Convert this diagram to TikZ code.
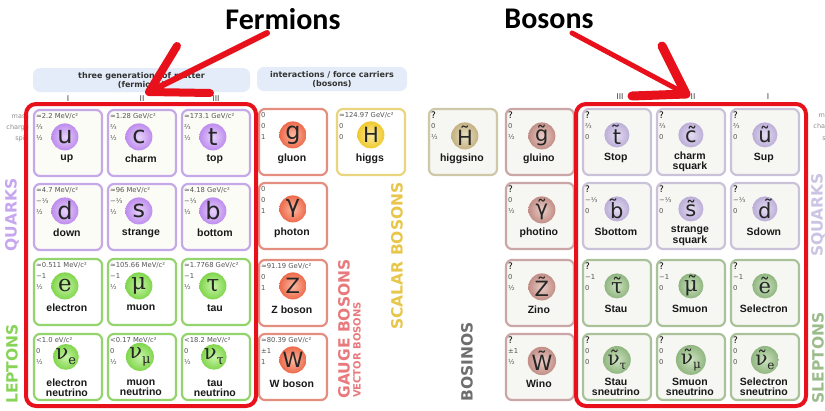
\documentclass[tikz,border=0pt]{standalone}
\usepackage{fontspec}
\setmainfont{DejaVu Sans}
\newfontfamily\namefont{Liberation Sans}
\newfontfamily\titlefont{Carlito}
\newfontfamily\symserif{DejaVu Serif}
\usetikzlibrary{calc}
\definecolor{redc}{HTML}{E8101A}
\definecolor{quarkbd}{HTML}{C4A8E8}\definecolor{quarkbl}{HTML}{BE8CEE}\definecolor{quarkin}{HTML}{E6D2FA}
\definecolor{lepbd}{HTML}{94D46C}\definecolor{lepbl}{HTML}{80D64C}\definecolor{lepin}{HTML}{C8F4A8}
\definecolor{gaugebd}{HTML}{E38E7E}\definecolor{gaugebl}{HTML}{EE6A4C}\definecolor{gaugein}{HTML}{FAB8A0}
\definecolor{higgsbd}{HTML}{EAD57E}\definecolor{higgsbl}{HTML}{EFC92C}\definecolor{higgsin}{HTML}{FBEBA0}
\definecolor{hinobd}{HTML}{CFC8A8}\definecolor{hinobl}{HTML}{C4B282}\definecolor{hinoin}{HTML}{E8E0C4}
\definecolor{ginobd}{HTML}{CBA6A6}\definecolor{ginobl}{HTML}{C28E86}\definecolor{ginoin}{HTML}{E8CCC6}
\definecolor{sqbd}{HTML}{CAC2D8}\definecolor{sqbl}{HTML}{BCAED8}\definecolor{sqin}{HTML}{E4DCF2}
\definecolor{slbd}{HTML}{A9C29A}\definecolor{slbl}{HTML}{90B680}\definecolor{slin}{HTML}{CCE2C0}
\definecolor{cellfill}{HTML}{FCFCF6}\definecolor{rcellfill}{HTML}{F6F6F2}
\definecolor{hdrfill}{HTML}{E3ECF8}\definecolor{propcol}{HTML}{555555}
\definecolor{quarkvt}{HTML}{C6A6EE}\definecolor{lepvt}{HTML}{88D458}
\definecolor{gaugevt}{HTML}{E87A7E}\definecolor{scalarvt}{HTML}{E8C64A}
\definecolor{bosinovt}{HTML}{6E6E6E}\definecolor{squarkvt}{HTML}{CCC4E4}
\definecolor{sleptvt}{HTML}{9CBC8C}
\newcommand\qsym{\fontsize{24}{24}\selectfont}
\newcommand\csym{\fontsize{21}{21}\selectfont}
\newcommand\lsym{\symserif\fontsize{23}{23}\selectfont}
\newcommand\rsym{\fontsize{21}{21}\selectfont}
\newcommand\rlsym{\symserif\fontsize{21}{21}\selectfont}
\newcommand\nusub[2]{{\symserif\fontsize{#1}{#1}\selectfont ν\raisebox{-0.22em}{\fontsize{13}{13}\selectfont #2}}}
\newcommand\snusub[2]{{\symserif\fontsize{#1}{#1}\selectfont ν̃\raisebox{-0.22em}{\fontsize{12}{12}\selectfont #2}}}
\newcommand\qm{\textcolor{black}{\fontsize{9}{9}\selectfont ?}}
\tikzset{
  cellbox/.style={draw, line width=2.2pt, rounded corners=6pt, minimum width=68pt, minimum height=66pt, inner sep=0pt, fill=cellfill},
  quark cell/.style={draw=quarkbd}, quark ball/.style={inner color=quarkin, outer color=quarkbl},
  lep cell/.style={draw=lepbd, fill=white}, lep ball/.style={inner color=lepin, outer color=lepbl},
  nu ball/.style={inner color=lepin, outer color=lepbl, minimum size=25pt},
  gauge cell/.style={draw=gaugebd, fill=white}, gauge ball/.style={inner color=gaugein, outer color=gaugebl},
  higgs cell/.style={draw=higgsbd, fill=white}, higgs ball/.style={inner color=higgsin, outer color=higgsbl},
  hino cell/.style={draw=hinobd, fill=rcellfill}, hino ball/.style={inner color=hinoin, outer color=hinobl},
  gino cell/.style={draw=ginobd, fill=rcellfill}, gino ball/.style={inner color=ginoin, outer color=ginobl},
  sq cell/.style={draw=sqbd, fill=rcellfill}, sq ball/.style={inner color=sqin, outer color=sqbl, minimum size=25pt},
  sl cell/.style={draw=slbd, fill=rcellfill}, sl ball/.style={inner color=slin, outer color=slbl, minimum size=25pt},
  ball/.style={circle, minimum size=27pt, inner sep=0pt, text=black!85},
  prop/.style={font=\fontsize{6.8}{6.8}\selectfont, text=propcol, inner sep=0pt, anchor=west},
  pname/.style={font=\namefont\bfseries\fontsize{10.5}{10.5}\selectfont, align=center, inner sep=0pt, text=black!90},
  redframe/.style={draw=redc, line width=4pt, rounded corners=10pt},
  redarrow/.style={draw=redc, line cap=round, line join=round},
  vlabel/.style={rotate=90, font=\bfseries\fontsize{15.5}{15.5}\selectfont, inner sep=0pt},
  title/.style={font=\titlefont\bfseries\fontsize{30}{30}\selectfont, inner sep=0pt},
  hdrbox/.style={fill=hdrfill, rounded corners=7pt, align=center, inner sep=0pt, text=black!80, font=\bfseries\fontsize{8}{9}\selectfont},
  gen/.style={font=\fontsize{8}{8}\selectfont, text=black!75, inner sep=0pt},
  side/.style={font=\fontsize{6.5}{6.5}\selectfont, text=black!45, inner sep=0pt},
}
\newcommand{\pcell}[9]{%
  \node[cellbox,#1 cell] (#2) at (#3+35,#4+34) {};
  \node[prop] (#2-m) at ($(#2.north west)+(3,7)$) {#5};
  \node[prop] (#2-q) at ($(#2.north west)+(3,18)$) {#6};
  \node[prop] (#2-s) at ($(#2.north west)+(3,29)$) {#7};
  \node[ball,#1 ball,\ballstyle] (#2-b) at ($(#2.north west)+(\ballx,\bally)$) {#8};
  \node[pname] (#2-n) at ($(#2.north west)+(34,\laby)$) {#9};
}
\begin{document}
\begin{tikzpicture}[x=1pt,y=-1pt]
\useasboundingbox (0,0) rectangle (825,410);
\fill[white] (0,0) rectangle (825,410);
\def\ballstyle{}

% titles
\node[title] (fermions) at (283,19) {Fermions};
\node[title] (bosons) at (549,19) {Bosons};

% header boxes
\node[hdrbox, minimum width=217pt, minimum height=24pt] (genbox) at (141.5,80) {three generations of matter\\(fermions)};
\node[hdrbox, minimum width=150pt, minimum height=24pt] (intbox) at (332,79) {interactions / force carriers\\(bosons)};

% generation labels
\node[gen] (gl1) at (68,99) {I};
\node[gen] (gl2) at (142,99) {II};
\node[gen] (gl3) at (216,99) {III};
\node[gen] (gr3) at (620,97) {III};
\node[gen] (gr2) at (693,97) {II};
\node[gen] (gr1) at (768,97) {I};

% side labels
\node[side, anchor=east] (lmass) at (29,117) {mass};
\node[side, anchor=east] (lcharge) at (29,128) {charge};
\node[side, anchor=east] (lspin) at (29,139) {spin};
\node[side, anchor=east] (rmass) at (836,116) {mass};
\node[side, anchor=east] (rcharge) at (836,127) {charge};
\node[side, anchor=east] (rspin) at (836,139) {spin};

% fermions
\def\ballx{32}\def\bally{28}\def\laby{50}
\pcell{quark}{up}{33}{109}{≈2.2 MeV/c²}{⅔}{½}{\qsym u}{up}
\pcell{quark}{charm}{107}{109}{≈1.28 GeV/c²}{⅔}{½}{\qsym c}{charm}
\pcell{quark}{top}{181}{109}{≈173.1 GeV/c²}{⅔}{½}{\qsym t}{top}
\pcell{quark}{down}{33}{183}{≈4.7 MeV/c²}{−⅓}{½}{\qsym d}{down}
\pcell{quark}{strange}{107}{183}{≈96 MeV/c²}{−⅓}{½}{\qsym s}{strange}
\pcell{quark}{bottom}{181}{183}{≈4.18 GeV/c²}{−⅓}{½}{\qsym b}{bottom}
\pcell{lep}{electron}{33}{258}{≈0.511 MeV/c²}{−1}{½}{\lsym e}{electron}
\pcell{lep}{muon}{107}{258}{≈105.66 MeV/c²}{−1}{½}{\lsym μ}{muon}
\pcell{lep}{tau}{181}{258}{≈1.7768 GeV/c²}{−1}{½}{\lsym τ}{tau}
\def\ballx{33}\def\bally{24}\def\laby{55}\def\ballstyle{nu ball}
\pcell{lep}{nue}{33}{333}{<1.0 eV/c²}{0}{½}{\nusub{21}{e}}{electron\\neutrino}
\pcell{lep}{numu}{107}{333}{<0.17 MeV/c²}{0}{½}{\nusub{21}{μ}}{muon\\neutrino}
\pcell{lep}{nutau}{181}{333}{<18.2 MeV/c²}{0}{½}{\nusub{21}{τ}}{tau\\neutrino}
\def\ballstyle{}

% bosons
\def\ballx{35}\def\bally{27}\def\laby{51}
\pcell{gauge}{gluon}{258}{108}{0}{0}{1}{\qsym g}{gluon}
\pcell{gauge}{photon}{258}{182}{0}{0}{1}{\qsym γ}{photon}
\pcell{gauge}{zboson}{258}{259}{≈91.19 GeV/c²}{0}{1}{\csym Z}{Z boson}
\pcell{gauge}{wboson}{258}{333}{≈80.39 GeV/c²}{±1}{1}{\csym W}{W boson}
\pcell{higgs}{higgs}{336}{108}{≈124.97 GeV/c²}{0}{0}{\csym H}{higgs}

% bosinos
\def\ballx{37}\def\bally{28}\def\laby{51}
\pcell{hino}{higgsino}{428}{108}{\qm}{0}{½}{\rsym H̃}{higgsino}
\pcell{gino}{gluino}{505}{108}{\qm}{0}{½}{\rsym g̃}{gluino}
\pcell{gino}{photino}{505}{182}{\qm}{0}{½}{\rsym γ̃}{photino}
\pcell{gino}{zino}{505}{259}{\qm}{0}{½}{\rsym Z̃}{Zino}
\pcell{gino}{wino}{505}{333}{\qm}{±1}{½}{\rsym W̃}{Wino}

% squarks and sleptons
\def\ballx{35}\def\bally{27}\def\laby{50}
\pcell{sq}{stop}{582}{108}{\qm}{⅔}{0}{\rsym t̃}{Stop}
\pcell{sq}{sup}{730}{108}{\qm}{⅔}{0}{\rsym ũ}{Sup}
\pcell{sq}{sbottom}{582}{182}{\qm}{−⅓}{0}{\rsym b̃}{Sbottom}
\pcell{sq}{sdown}{730}{182}{\qm}{−⅓}{0}{\rsym d̃}{Sdown}
\pcell{sl}{stau}{582}{259}{\qm}{−1}{0}{\rlsym τ̃}{Stau}
\pcell{sl}{smuon}{656}{259}{\qm}{−1}{0}{\rlsym μ̃}{Smuon}
\pcell{sl}{selectron}{730}{259}{\qm}{−1}{0}{\rlsym ẽ}{Selectron}
\def\laby{54}
\pcell{sq}{scharm}{656}{108}{\qm}{⅔}{0}{\rsym c̃}{charm\\squark}
\pcell{sq}{sstrange}{656}{182}{\qm}{−⅓}{0}{\rsym s̃}{strange\\squark}
\pcell{sl}{snutau}{582}{333}{\qm}{0}{0}{\snusub{20}{τ}}{Stau\\sneutrino}
\pcell{sl}{snumu}{656}{333}{\qm}{0}{0}{\snusub{20}{μ}}{Smuon\\sneutrino}
\pcell{sl}{snue}{730}{333}{\qm}{0}{0}{\snusub{20}{e}}{Selectron\\sneutrino}

% vertical labels
\node[vlabel, text=quarkvt] (quarks) at (12,215) {QUARKS};
\node[vlabel, text=lepvt] (leptons) at (12,364) {LEPTONS};
\node[vlabel, text=gaugevt] (gaugeb) at (344,329) {GAUGE BOSONS};
\node[vlabel, text=gaugevt, font=\bfseries\fontsize{10}{10}\selectfont] (vectorb) at (357,350) {VECTOR BOSONS};
\node[vlabel, text=scalarvt] (scalarb) at (397,256) {SCALAR BOSONS};
\node[vlabel, text=bosinovt] (bosinos) at (467,362) {BOSINOS};
\node[vlabel, text=squarkvt] (squarks) at (818,215) {SQUARKS};
\node[vlabel, text=sleptvt] (sleptons) at (818,358) {SLEPTONS};

% red frames
\draw[redframe] (26,104) rectangle (256,406);
\draw[redframe] (576,104) rectangle (806,406);

% red arrows
\coordinate (fA) at (267,33);
\coordinate (fT) at (149,92);
\coordinate (fL) at (177,46);
\coordinate (fR) at (210,93);
\draw[redarrow, line width=6pt] (fA) -- (fT);
\draw[redarrow, line width=8pt] (fL) -- (fT) -- (fR);
\coordinate (bA) at (572,33);
\coordinate (bT) at (686,94);
\coordinate (bU) at (662,46);
\coordinate (bL) at (632,96);
\draw[redarrow, line width=5pt] (bA) -- (bT);
\draw[redarrow, line width=9pt] (bU) -- (bT) -- (bL);
\end{tikzpicture}
\end{document}
